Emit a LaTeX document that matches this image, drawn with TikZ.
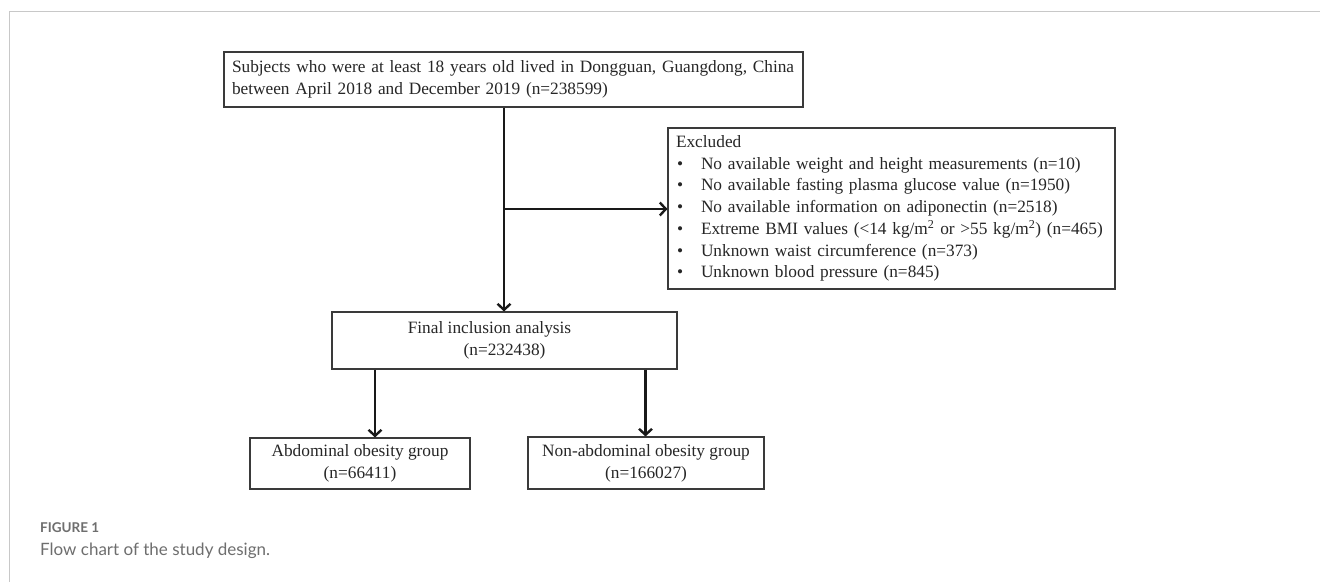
\documentclass[tikz,border=0pt]{standalone}
\usepackage{fontspec}
\setmainfont{Liberation Serif}
\newfontfamily\capfont{Lato}
\usetikzlibrary{arrows.meta}
\definecolor{framegrey}{HTML}{C8C8C8}
\definecolor{boxline}{HTML}{3A3A3A}
\definecolor{capgrey}{HTML}{6E6E6E}
\tikzset{
  box/.style={draw=boxline, line width=1.1pt, inner sep=0pt, text=black!85, font=\fontsize{17.3}{21.7}\selectfont},
  arr/.style={draw=black!90, line width=2.4pt, -{Straight Barb[length=6pt,width=13pt]}},
}
\begin{document}
\begin{tikzpicture}[x=1pt,y=-1pt]
\useasboundingbox (0,0) rectangle (1320,582);
\fill[white] (0,0) rectangle (1320,582);
% page frame
\draw[framegrey, line width=1.5pt] (1320,11.5) -- (9.5,11.5) -- (9.5,582);

% boxes
\node[box, minimum width=579pt, minimum height=55pt, text width=563pt, align=left] (top) at (513.5,79.5)
  {Subjects who were at least 18 years old lived in Dongguan, Guangdong, China\\between April 2018 and December 2019 (n=238599)};

\node[box, minimum width=447pt, minimum height=161pt, text width=431pt, align=left] (excl) at (891.5,208.5)
  {Excluded\\
   \makebox[25pt][l]{\hspace{1pt}•}No available weight and height measurements (n=10)\\
   \makebox[25pt][l]{\hspace{1pt}•}No available fasting plasma glucose value (n=1950)\\
   \makebox[25pt][l]{\hspace{1pt}•}No available information on adiponectin (n=2518)\\
   \makebox[25pt][l]{\hspace{1pt}•}Extreme BMI values (<14 kg/m\textsuperscript{2} or >55 kg/m\textsuperscript{2}) (n=465)\\
   \makebox[25pt][l]{\hspace{1pt}•}Unknown waist circumference (n=373)\\
   \makebox[25pt][l]{\hspace{1pt}•}Unknown blood pressure (n=845)};

\node[box, minimum width=345pt, minimum height=57pt, align=center] (final) at (504.5,340.5)
  {Final inclusion analysis\hspace*{30pt}\\(n=232438)};

\node[box, minimum width=220pt, minimum height=51pt, align=center] (abd) at (360,463.5)
  {Abdominal obesity group\\(n=66411)};

\node[box, minimum width=236pt, minimum height=52pt, align=center] (nonabd) at (646,463)
  {Non-abdominal obesity group\\(n=166027)};

% connectors
\coordinate (trunk) at (504,0);
\coordinate (branch) at (504,209);
\coordinate (la) at (375,0);
\coordinate (ra) at (645.5,0);
\draw[arr] (top.south -| trunk) -- (final.north -| trunk);
\draw[arr] (branch) -- (branch -| excl.west);
\draw[arr] (final.south -| la) -- (abd.north -| la);
\draw[arr] (final.south -| ra) -- (nonabd.north -| ra);

% caption
\node[anchor=west, inner sep=0pt, text=capgrey, font=\capfont\bfseries\fontsize{13.5}{15}\selectfont] (fig) at (40,528) {FIGURE 1};
\node[anchor=west, inner sep=0pt, text=capgrey, font=\capfont\fontsize{17}{20}\selectfont] (cap) at (40,551) {Flow chart of the study design.};
\end{tikzpicture}
\end{document}
